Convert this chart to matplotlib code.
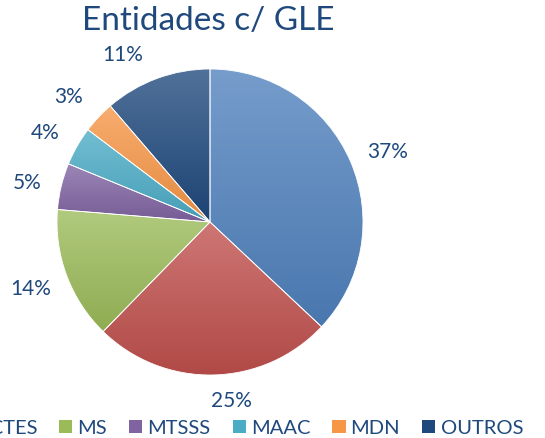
import numpy as np
import matplotlib.pyplot as plt
from matplotlib.colors import LinearSegmentedColormap, to_rgb
from matplotlib.patches import Patch

# dados
entidades = ['ME', 'MCTES', 'MS', 'MTSSS', 'MAAC', 'MDN', 'OUTROS']
valores = [37.0, 25.3, 14.0, 4.9, 4.1, 3.4, 11.3]
cores = ['#4F81BD', '#C0504D', '#9BBB59', '#8064A2', '#4BACC6', '#F79646', '#1F497D']

# posição dos rótulos (desvio angular em graus, distância ao centro)
desvio_ang = [-2, 5.7, 0, 1.4, 1.4, 1.7, 7.2]
dist_rot = [1.25, 1.18, 1.25, 1.22, 1.225, 1.236, 1.23]

texto = '#1F497D'
plt.rcParams['font.family'] = ['Lato', 'DejaVu Sans']

fig = plt.figure(figsize=(5.45, 4.38), dpi=100)
R = 153
L = 180 / R
ax = fig.add_axes([(210 - 180) / 545, (216 - 180) / 438, 360 / 545, 360 / 438])
ax.axis('off')


def tom(c, f):
    # f > 0 clareia, f < 0 escurece
    c = np.array(to_rgb(c))
    if f > 0:
        return tuple(c + (1 - c) * f)
    return tuple(c * (1 + f))


wedges, _, pcts = ax.pie(valores, colors=cores, startangle=90, counterclock=False,
                         autopct='%.0f%%', pctdistance=1.24,
                         textprops=dict(color=texto, fontsize=15),
                         wedgeprops=dict(linewidth=0.6, edgecolor='white'))

# gradiente vertical em cada fatia (estilo Excel)
for w, c in zip(wedges, cores):
    ext = w.get_path().get_extents(w.get_patch_transform())
    cmap = LinearSegmentedColormap.from_list('g', [tom(c, 0.22), tom(c, -0.08)])
    grad = np.linspace(0, 1, 256).reshape(-1, 1)
    im = ax.imshow(grad, cmap=cmap, aspect='auto', origin='upper',
                   extent=[ext.x0, ext.x1, ext.y0, ext.y1], zorder=w.get_zorder())
    im.set_clip_path(w)
    w.set_facecolor('none')
    w.set_zorder(w.get_zorder() + 0.5)

# reposicionar rótulos como no Excel (melhor ajuste)
for w, t, da, r in zip(wedges, pcts, desvio_ang, dist_rot):
    ang = np.deg2rad((w.theta1 + w.theta2) / 2 + da)
    t.set_position((r * np.cos(ang), r * np.sin(ang)))

ax.set_xlim(-L, L)
ax.set_ylim(-L, L)

fig.text(208 / 545, 1 - 21 / 438, 'Entidades c/ GLE', ha='center', va='center',
         fontsize=24, color=texto)

handles = [Patch(facecolor=c, edgecolor='none') for c in cores]
fig.legend(handles, entidades, loc='center right', bbox_to_anchor=(523 / 545, 1 - 428 / 438),
           ncol=7, frameon=False, fontsize=14.5, labelcolor=texto,
           handlelength=0.65, handleheight=0.65, handletextpad=0.25, columnspacing=1.1,
           borderaxespad=0, borderpad=0)

fig.savefig('out.png', dpi=100)
